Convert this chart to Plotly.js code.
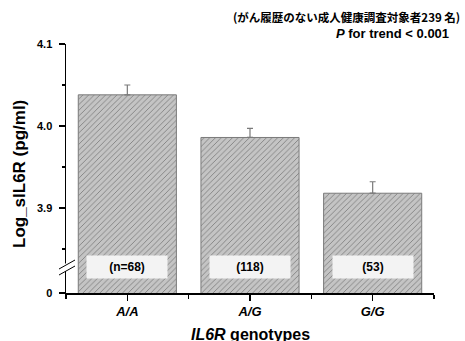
<!DOCTYPE html>
<html>
<head>
<meta charset="utf-8">
<script src="https://cdn.plot.ly/plotly-3.0.1.min.js"></script>
<style>html,body{margin:0;padding:0;background:#fff;}#chart{width:465px;height:341px;}</style>
</head>
<body>
<div id="chart"></div>
<script>
const genotypes = ['A/A', 'A/G', 'G/G'];
const meanLogSIL6R = [4.038, 3.986, 3.918];
const seLogSIL6R = [0.012, 0.011, 0.014];
const nLabels = ['(n=68)', '(118)', '(53)'];
const yTickVals = [3.7963, 3.9, 4.0, 4.1];
const yTickText = ['0', '3.9', '4.0', '4.1'];
const yMinorVals = [4.05, 3.95, 3.85];
const nLabelY = 3.828;

const FONT = 'Arial, "Liberation Sans", sans-serif';
const xIdx = genotypes.map((_, i) => i);

const trace = {
  type: 'bar',
  x: xIdx,
  y: meanLogSIL6R,
  width: 0.8,
  marker: {
    color: '#c4c4c4',
    line: {color: '#7a7a7a', width: 1},
    pattern: {shape: '/', fgcolor: '#707070', bgcolor: '#c4c4c4', size: 4, solidity: 0.18}
  },
  error_y: {
    type: 'data', symmetric: false,
    array: seLogSIL6R,
    arrayminus: seLogSIL6R.map(() => 0),
    color: '#7a7a7a', thickness: 1.2, width: 3
  },
  hoverinfo: 'skip'
};

const L = 66, R = 434, T = 44, B = 293;
const px = v => (v - L) / (R - L);
const py = v => (B - v) / (B - T);

const annotations = nLabels.map((t, i) => ({
  x: i, y: nLabelY, xref: 'x', yref: 'y',
  text: '<b>' + t + '</b>', showarrow: false,
  bgcolor: '#f3f3f3', width: 78, height: 20,
  font: {family: FONT, size: 12, color: '#000'}
}));

annotations.push({
  xref: 'paper', yref: 'paper', x: px(462), y: py(17), xanchor: 'right', yanchor: 'middle',
  text: '<b>(がん履歴のない成人健康調査対象者239 名)</b>', showarrow: false,
  font: {family: '"Noto Sans CJK JP", sans-serif', size: 11.5, color: '#000'}
});
annotations.push({
  xref: 'paper', yref: 'paper', x: px(451), y: py(33.5), xanchor: 'right', yanchor: 'middle',
  text: '<b><i>P</i> for trend &lt; 0.001</b>', showarrow: false,
  font: {family: FONT, size: 13, color: '#000'}
});
annotations.push({
  xref: 'paper', yref: 'paper', x: 0.5, y: py(334), xanchor: 'center', yanchor: 'middle',
  text: '<b><i>IL6R</i> genotypes</b>', showarrow: false,
  font: {family: FONT, size: 16, color: '#000'}
});
annotations.push({
  xref: 'paper', yref: 'paper', x: px(19), y: py(174), xanchor: 'center', yanchor: 'middle',
  text: '<b>Log_sIL6R (pg/ml)</b>', showarrow: false, textangle: -90,
  font: {family: FONT, size: 17, color: '#000'}
});

const shapes = [
  {type: 'rect', xref: 'paper', yref: 'paper', layer: 'above',
   x0: px(63), x1: px(69.5), y0: py(271), y1: py(263.5),
   fillcolor: '#ffffff', line: {width: 0}},
  {type: 'line', xref: 'paper', yref: 'paper', layer: 'above',
   x0: px(59), y0: py(275), x1: px(75), y1: py(266), line: {color: '#000', width: 1}},
  {type: 'line', xref: 'paper', yref: 'paper', layer: 'above',
   x0: px(59), y0: py(269), x1: px(75), y1: py(260), line: {color: '#000', width: 1}}
];

const layout = {
  width: 465, height: 341,
  margin: {l: L, r: 465 - R, t: T, b: 341 - B, pad: 0},
  paper_bgcolor: '#fff', plot_bgcolor: '#fff',
  showlegend: false,
  font: {family: FONT, color: '#000'},
  xaxis: {
    range: [-0.5, 2.5], tickmode: 'array', tickvals: xIdx, ticktext: genotypes,
    showgrid: false, zeroline: false, showline: true, linecolor: '#000', linewidth: 1.5,
    ticks: 'outside', ticklen: 6, tickwidth: 1.5, tickcolor: '#000', ticklabelstandoff: 0,
    tickfont: {family: FONT, size: 13, weight: 'bold', style: 'italic', color: '#000'},
    minor: {tickmode: 'array', tickvals: [-0.5, 0.5, 1.5, 2.5], ticks: 'outside', ticklen: 4, tickwidth: 1.2, tickcolor: '#000', showgrid: false},
    fixedrange: true
  },
  yaxis: {
    range: [3.7963, 4.1], tickmode: 'array', tickvals: yTickVals, ticktext: yTickText,
    showgrid: false, zeroline: false, showline: true, linecolor: '#000', linewidth: 1.5,
    ticks: 'outside', ticklen: 6, tickwidth: 1.5, tickcolor: '#000', ticklabelstandoff: 4,
    tickfont: {family: FONT, size: 11, weight: 'bold', color: '#000'},
    minor: {tickmode: 'array', tickvals: yMinorVals, ticks: 'outside', ticklen: 3, tickwidth: 1.2, tickcolor: '#000', showgrid: false},
    fixedrange: true
  },
  annotations: annotations,
  shapes: shapes,
  bargap: 0.2
};

Plotly.newPlot('chart', [trace], layout, {displayModeBar: false, staticPlot: true});
</script>
</body>
</html>
